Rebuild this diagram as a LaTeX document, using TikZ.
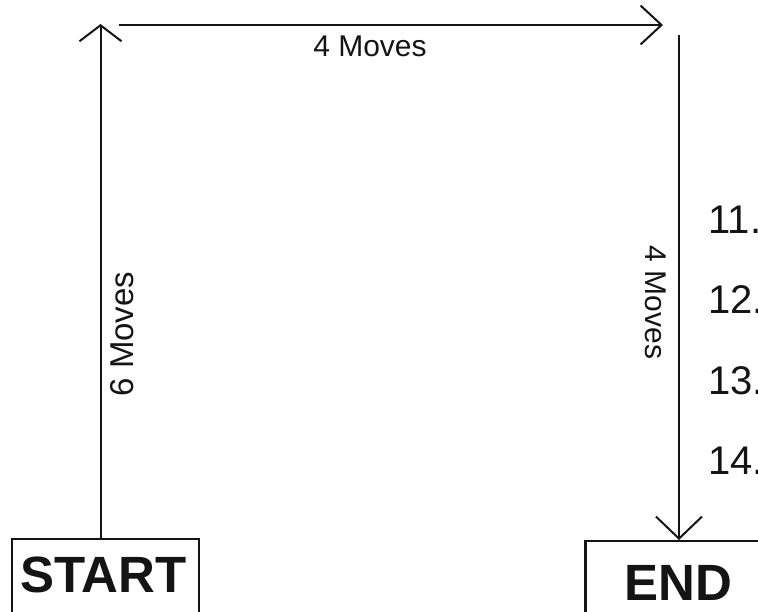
\documentclass[tikz,border=0pt]{standalone}
\usepackage{fontspec}
\setmainfont{Liberation Sans}
\usetikzlibrary{arrows.meta}
\begin{document}
\begin{tikzpicture}[x=1pt,y=-1pt,line width=2pt,color=black!92,
  box/.style={draw,line width=2.4pt,minimum width=187pt,minimum height=120pt,anchor=north,inner sep=0pt},
  bigtxt/.style={font=\bfseries\fontsize{51}{51}\selectfont,anchor=base,inner sep=0pt},
  lbl/.style={font=\fontsize{30}{30}\selectfont,anchor=base,inner sep=0pt},
  lblb/.style={font=\fontsize{33}{33}\selectfont,anchor=base,inner sep=0pt},
  num/.style={font=\fontsize{40}{40}\selectfont,anchor=base west,inner sep=0pt}]
\clip (0,0) rectangle (758,612);
% boxes
\node[box] (startbox) at (105.5,538) {};
\node[box] (endbox) at (679,540) {};
\node[bigtxt] (starttxt) at (103.5,592) {START};
\node[bigtxt] (endtxt) at (678,600) {END};
% connectors
\coordinate (lt) at (100.5,24);
\coordinate (ta) at (119,25);
\coordinate (tb) at (663,25);
\coordinate (ra) at (679,35);
\draw[-{Straight Barb[length=16pt,width=42pt]}] (startbox.north -| lt) -- (lt);
\draw[-{Straight Barb[length=21pt,width=39pt]}] (ta) -- (tb);
\draw[-{Straight Barb[length=22pt,width=46pt]}] (ra) -- (endbox.north);
% labels
\node[lbl] (ltop) at (370,57) {4 Moves};
\node[lblb,rotate=90] (lleft) at (133,334) {6 Moves};
\node[lbl,rotate=-90] (lright) at (645,302.5) {4 Moves};
% numbers
\node[num] (n11) at (707.5,234) {11.};
\node[num] (n12) at (707.5,314) {12.};
\node[num] (n13) at (707.5,394) {13.};
\node[num] (n14) at (707.5,474) {14.};
\end{tikzpicture}
\end{document}
